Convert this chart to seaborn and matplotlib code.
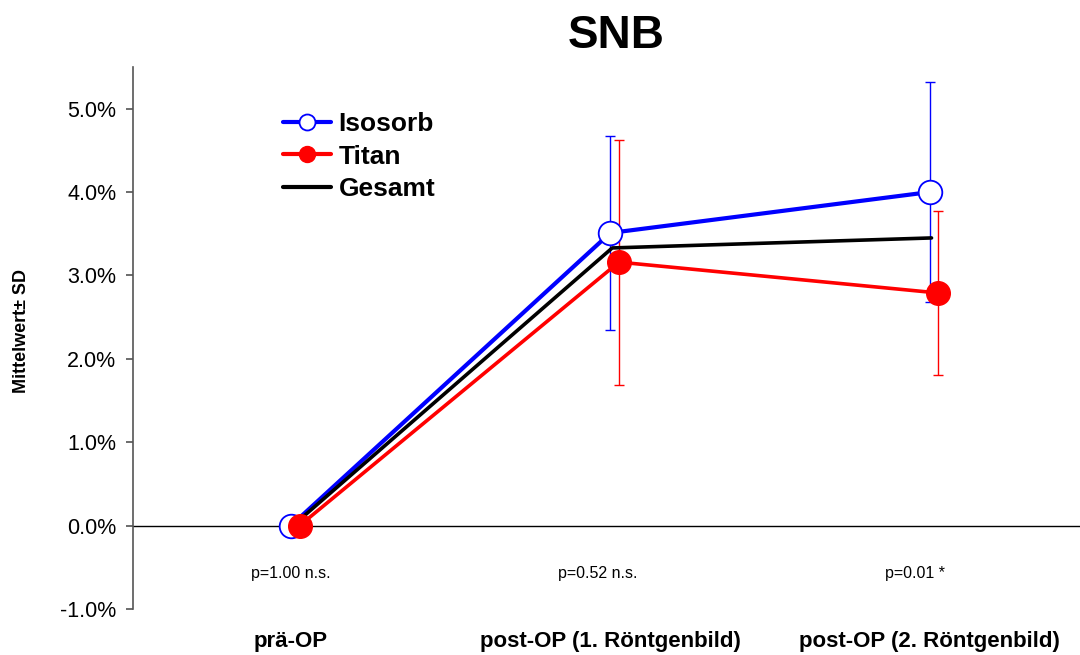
import matplotlib
matplotlib.use('Agg')
import matplotlib.pyplot as plt
import seaborn as sns
import pandas as pd
from matplotlib.lines import Line2D

# ---- data ----
categories = ['prä-OP', 'post-OP (1. Röntgenbild)', 'post-OP (2. Röntgenbild)']
isosorb_mean = [0.0, 3.51, 4.00]
isosorb_sd = [0.0, 1.16, 1.32]
titan_mean = [0.0, 3.16, 2.79]
titan_sd = [0.0, 1.47, 0.98]
gesamt_mean = [0.0, 3.33, 3.45]
p_labels = ['p=1.00 n.s.', 'p=0.52 n.s.', 'p=0.01 *']
yticks = [-1.0, 0.0, 1.0, 2.0, 3.0, 4.0, 5.0]
title = 'SNB'
ylabel = 'Mittelwert± SD'

sns.set_theme(style='white')
plt.rcParams['font.family'] = ['Liberation Sans', 'DejaVu Sans']
plt.rcParams['text.color'] = 'black'
plt.rcParams['xtick.color'] = 'black'
plt.rcParams['ytick.color'] = 'black'

W, H = 1080, 655
fig = plt.figure(figsize=(W / 100, H / 100), dpi=100)
ax = fig.add_axes([133 / W, (H - 609) / H, (1080 - 133) / W, (609 - 67) / H])

idx = list(range(len(categories)))
off_iso, off_titan, off_ges = 0.0, 0.027, 0.006
df_iso = pd.DataFrame({'x': [i + off_iso for i in idx], 'y': isosorb_mean})
df_tit = pd.DataFrame({'x': [i + off_titan for i in idx], 'y': titan_mean})
df_ges = pd.DataFrame({'x': [i + off_ges for i in idx], 'y': gesamt_mean})

# zero line
ax.axhline(0, color='black', lw=1.0, zorder=1)

# error bars
ax.errorbar(df_iso['x'], df_iso['y'], yerr=isosorb_sd, fmt='none', ecolor='#0000FF',
            elinewidth=1.0, capsize=3.6, capthick=1.0, zorder=2)
ax.errorbar(df_tit['x'], df_tit['y'], yerr=titan_sd, fmt='none', ecolor='#FF0000',
            elinewidth=1.0, capsize=3.6, capthick=1.0, zorder=2)

sns.lineplot(data=df_iso, x='x', y='y', ax=ax, color='#0000FF', lw=3.0,
             marker='o', markersize=17, markerfacecolor='white',
             markeredgecolor='#0000FF', markeredgewidth=1.3, zorder=3)
sns.lineplot(data=df_ges, x='x', y='y', ax=ax, color='black', lw=2.6, zorder=3)
sns.lineplot(data=df_tit, x='x', y='y', ax=ax, color='#FF0000', lw=2.6,
             marker='o', markersize=17, markerfacecolor='#FF0000',
             markeredgecolor='#FF0000', markeredgewidth=1.0, zorder=4)

ax.set_xlim(-0.4948, 2.471)
ax.set_ylim(-1.0, 5.5)
ax.set_yticks(yticks)
ax.set_yticklabels([f'{v:.1f}%' for v in yticks], fontsize=15.5)
ax.set_xticks(idx)
ax.set_xticklabels(categories, fontsize=16, fontweight='bold')
ax.tick_params(axis='x', length=0, pad=16)
ax.tick_params(axis='y', length=5, width=1.1, color='#444444', pad=7, left=True)
ax.set_xlabel('')
ax.set_ylabel('')
for s in ['top', 'right', 'bottom']:
    ax.spines[s].set_visible(False)
ax.spines['left'].set_color('#555555')
ax.spines['left'].set_linewidth(1.2)

# p-values
p_shift = [0.0, -0.04, -0.045]
for i, lab in enumerate(p_labels):
    ax.text(i + p_shift[i], -0.57, lab, ha='center', va='center', fontsize=11.5)

# legend
handles = [
    Line2D([], [], color='#0000FF', lw=3.0, marker='o', markersize=11.5,
           markerfacecolor='white', markeredgecolor='#0000FF', markeredgewidth=1.3),
    Line2D([], [], color='#FF0000', lw=3.0, marker='o', markersize=11.5,
           markerfacecolor='#FF0000', markeredgecolor='#FF0000'),
    Line2D([], [], color='black', lw=3.0),
]
leg = ax.legend(handles, ['Isosorb', 'Titan', 'Gesamt'], loc='upper left',
                bbox_to_anchor=(283 / W, 1 - 112 / H), bbox_transform=fig.transFigure,
                frameon=False, borderpad=0, borderaxespad=0, handlelength=1.8,
                handletextpad=0.3, labelspacing=0.33,
                prop={'size': 19, 'weight': 'bold'})

fig.text(616 / W, 1 - 36 / H, title, ha='center', va='center', fontsize=33, fontweight='bold')
fig.text(22 / W, 1 - 331 / H, ylabel, ha='center', va='center', rotation=90,
         fontsize=13, fontweight='bold')

fig.savefig('out.png', dpi=100)
